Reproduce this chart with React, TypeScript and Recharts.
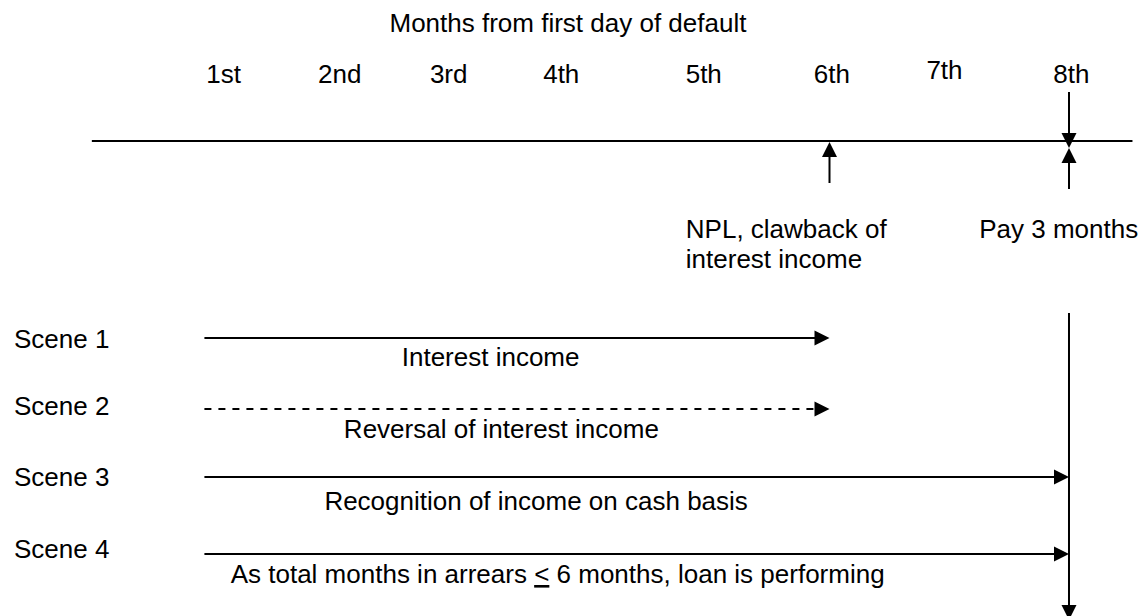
import React from 'react';
import {
  ComposedChart,
  XAxis,
  YAxis,
  Scatter,
  ReferenceLine,
  ReferenceDot
} from 'recharts';

// month ticks along the top, and where each label sits on the month scale
const monthLabels = ['1st', '2nd', '3rd', '4th', '5th', '6th', '7th', '8th'];
const monthLabelAt = [0.94, 1.91, 2.82, 3.76, 4.95, 6.02, 6.96, 8.02];

// the four scenes: arrow from -> to (in months)
const sceneNames = ['Scene 1', 'Scene 2', 'Scene 3', 'Scene 4'];
const sceneFrom = [0.78, 0.78, 0.78, 0.78];
const sceneTo = [6, 6, 8, 8];
const sceneDashed = [false, true, false, false];
const sceneNotes = [
  'Interest income',
  'Reversal of interest income',
  'Recognition of income on cash basis',
  'As total months in arrears < 6 months, loan is performing'
];
const sceneNoteAt = [3.17, 3.26, 3.55, 3.73];

// events marked on the timeline
const eventMonths = [6, 8];
const eventNotes = [['NPL, clawback of', 'interest income'], ['Pay 3 months']];
const eventNoteFrom = [4.8, 7.25];

const timelineFrom = -0.16;
const timelineTo = 8.53;

// layout (vertical axis runs in page pixels, top to bottom)
const W = 1143;
const H = 616;
const TITLE_Y = 32;
const TIMELINE_Y = 141;
const ROW_Y = [338, 409, 477, 554];
const ROW_LABEL_Y = [348, 415, 486, 558];
const ROW_NOTE_Y = [366, 438, 510, 583];
const FONT = "'Liberation Sans', Arial, sans-serif";
const FS = 26;

const xDomain = [-0.927, 8.618];

type Dir = 'up' | 'down' | 'right';

const Head = ({ cx, cy, dir }: { cx: number; cy: number; dir: Dir }) => {
  const L = 15;
  const w = 7.5;
  let pts = '';
  if (dir === 'right') pts = `${cx},${cy} ${cx - L},${cy - w} ${cx - L},${cy + w}`;
  if (dir === 'up') pts = `${cx},${cy} ${cx - w},${cy + L} ${cx + w},${cy + L}`;
  if (dir === 'down') pts = `${cx},${cy} ${cx - w},${cy - L} ${cx + w},${cy - L}`;
  return <polygon points={pts} fill="#000" />;
};

const head = (dir: Dir) => (p: any) => <Head cx={p.cx} cy={p.cy} dir={dir} />;

const textShape = (lines: React.ReactNode[], anchor: 'start' | 'middle', lineGap = 30) => (p: any) => (
  <text x={p.cx} y={p.cy} textAnchor={anchor} fontFamily={FONT} fontSize={FS} fill="#000">
    {lines.map((l, i) => (
      <tspan key={i} x={p.cx} dy={i === 0 ? 0 : lineGap}>
        {l}
      </tspan>
    ))}
  </text>
);

// the "<" in the last note is printed underlined (i.e. "less than or equal")
const noteContent = (note: string) => {
  const k = note.indexOf('<');
  if (k < 0) return note;
  return (
    <>
      {note.slice(0, k)}
      <tspan style={{ textDecoration: 'underline' }}>&lt;</tspan>
      {note.slice(k + 1)}
    </>
  );
};

const monthData = monthLabels.map((label, i) => ({
  m: monthLabelAt[i],
  y: label === '7th' ? 79 : 82.5,
  label
}));

const MonthLabel = (p: any) => (
  <text x={p.cx} y={p.cy} textAnchor="middle" fontFamily={FONT} fontSize={FS} fill="#000">
    {p.payload?.label}
  </text>
);

const seg = (x1: number, y1: number, x2: number, y2: number, key: string, dash?: string) => (
  <ReferenceLine
    key={key}
    segment={[{ x: x1, y: y1 }, { x: x2, y: y2 }]}
    stroke="#000"
    strokeWidth={2}
    strokeDasharray={dash}
    ifOverflow="visible"
  />
);

export default function App() {
  return (
    <div style={{ position: 'absolute', left: 0, top: 0, width: W, height: H, background: '#fff' }}>
      <ComposedChart width={W} height={H} margin={{ top: 0, right: 0, bottom: 0, left: 0 }}>
        <XAxis type="number" dataKey="m" domain={xDomain} allowDataOverflow hide />
        <YAxis type="number" dataKey="y" domain={[0, H]} allowDataOverflow reversed hide />

        {/* title */}
        <ReferenceDot
          x={3.816}
          y={TITLE_Y}
          ifOverflow="visible"
          shape={textShape(['Months from first day of default'], 'middle')}
        />

        {/* month labels */}
        <Scatter data={monthData} shape={<MonthLabel />} isAnimationActive={false} />

        {/* timeline */}
        {seg(timelineFrom, TIMELINE_Y, timelineTo, TIMELINE_Y, 'timeline')}

        {/* 6th: NPL marker */}
        {seg(eventMonths[0], 183, eventMonths[0], 150, 'e6')}
        <ReferenceDot x={eventMonths[0]} y={142} ifOverflow="visible" shape={head('up')} />

        {/* 8th: payment marker (down and up) */}
        {seg(eventMonths[1], 92, eventMonths[1], 140, 'e8d')}
        <ReferenceDot x={eventMonths[1]} y={148} ifOverflow="visible" shape={head('down')} />
        {seg(eventMonths[1], 189, eventMonths[1], 156, 'e8u')}
        <ReferenceDot x={eventMonths[1]} y={148} ifOverflow="visible" shape={head('up')} />

        {eventNotes.map((lines, i) => (
          <ReferenceDot
            key={`en${i}`}
            x={eventNoteFrom[i]}
            y={238}
            ifOverflow="visible"
            shape={textShape(lines, 'start')}
          />
        ))}

        {/* long vertical arrow at month 8 */}
        {seg(eventMonths[1], 313, eventMonths[1], 610, 'vert')}
        <ReferenceDot x={eventMonths[1]} y={620} ifOverflow="visible" shape={head('down')} />

        {/* scenes */}
        {sceneNames.map((name, i) => (
          <ReferenceDot
            key={`sn${i}`}
            x={xDomain[0] + 14 / 119.75}
            y={ROW_LABEL_Y[i]}
            ifOverflow="visible"
            shape={textShape([name], 'start')}
          />
        ))}
        {sceneNames.map((_, i) =>
          seg(sceneFrom[i], ROW_Y[i], sceneTo[i] - 0.08, ROW_Y[i], `sl${i}`, sceneDashed[i] ? '7 7' : undefined)
        )}
        {sceneNames.map((_, i) => (
          <ReferenceDot
            key={`sh${i}`}
            x={sceneTo[i]}
            y={ROW_Y[i]}
            ifOverflow="visible"
            shape={head('right')}
          />
        ))}
        {sceneNotes.map((note, i) => (
          <ReferenceDot
            key={`nt${i}`}
            x={sceneNoteAt[i]}
            y={ROW_NOTE_Y[i]}
            ifOverflow="visible"
            shape={textShape([noteContent(note)], 'middle')}
          />
        ))}
      </ComposedChart>
    </div>
  );
}
